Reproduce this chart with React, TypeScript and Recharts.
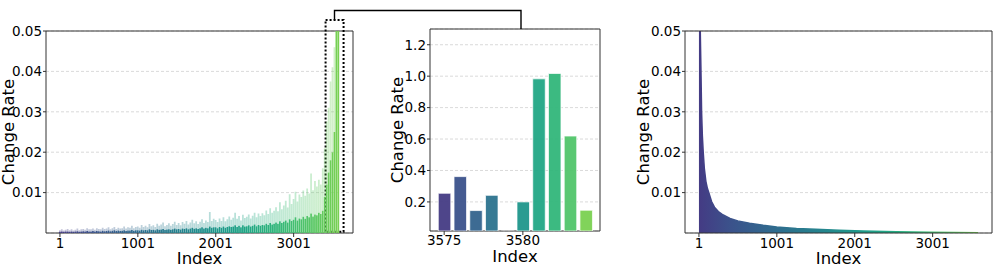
import React from "react";
import {
  Area,
  AreaChart,
  Bar,
  BarChart,
  CartesianGrid,
  Cell,
  ReferenceArea,
  XAxis,
  YAxis,
} from "recharts";

const FONT = '"DejaVu Sans", sans-serif';

// Full sequence (left panel). One sample every 25 positions, rates in units of 1e-3.
const FULL_INDEX = Array.from({ length: 144 }, (_, k) => 1 + 25 * k);
const FULL_PEAK_MILLI = [
  0.7, 0.9, 0.6, 0.8, 1.0, 0.7, 0.9, 0.6,
  0.8, 1.1, 0.7, 0.9, 1.0, 0.8, 1.2, 0.9,
  0.9, 1.1, 0.8, 1.2, 1.0, 0.9, 1.3, 1.0,
  1.1, 1.4, 0.9, 1.2, 1.5, 1.0, 1.3, 1.1,
  1.2, 1.6, 1.1, 1.4, 1.3, 1.8, 1.2, 1.5,
  1.6, 1.3, 2.0, 1.5, 1.8, 1.4, 2.2, 1.7,
  1.9, 1.5, 2.3, 1.8, 2.1, 2.6, 1.7, 2.0,
  2.4, 1.8, 2.2, 2.8, 2.0, 2.5, 1.9, 2.7,
  2.3, 3.0, 2.1, 2.6, 3.3, 2.4, 2.9, 2.2,
  2.8, 3.4, 2.5, 3.1, 2.7, 5.2, 3.0, 3.5,
  3.2, 2.7, 3.6, 3.0, 3.9, 2.9, 3.4, 4.1,
  3.3, 3.8, 5.0, 3.5, 4.2, 3.1, 4.5, 3.7,
  4.0, 4.6, 3.6, 4.3, 5.0, 3.9, 4.8, 4.2,
  4.9, 4.4, 5.6, 4.7, 6.1, 5.0, 5.5, 6.4,
  5.4, 7.6, 5.9, 6.8, 8.0, 6.3, 9.6, 7.2,
  8.4, 10.2, 7.8, 9.5, 8.9, 10.5, 9.2, 11.0,
  9.8, 14.7, 10.6, 12.9, 11.5, 13.2, 12.0, 16.0,
  21.0, 27.6, 31.0, 37.5, 41.0, 46.0, 60.0, 60.0,
];
const FULL_BASE_MILLI = [
  0.3, 0.4, 0.3, 0.35, 0.4, 0.3, 0.4, 0.3,
  0.35, 0.45, 0.3, 0.4, 0.45, 0.35, 0.5, 0.4,
  0.4, 0.5, 0.4, 0.5, 0.45, 0.4, 0.55, 0.45,
  0.5, 0.6, 0.45, 0.55, 0.65, 0.5, 0.6, 0.5,
  0.55, 0.7, 0.5, 0.6, 0.6, 0.75, 0.55, 0.65,
  0.7, 0.6, 0.8, 0.7, 0.75, 0.65, 0.9, 0.75,
  0.8, 0.7, 0.9, 0.8, 0.85, 1.0, 0.75, 0.85,
  0.9, 0.8, 0.95, 1.1, 0.9, 1.0, 0.85, 1.1,
  1.0, 1.2, 0.95, 1.1, 1.3, 1.05, 1.2, 1.0,
  1.2, 1.4, 1.1, 1.3, 1.2, 1.6, 1.3, 1.4,
  1.4, 1.2, 1.5, 1.3, 1.6, 1.3, 1.5, 1.7,
  1.5, 1.6, 1.9, 1.5, 1.8, 1.4, 1.9, 1.6,
  1.7, 1.9, 1.6, 1.8, 2.1, 1.7, 2.0, 1.8,
  2.0, 1.9, 2.3, 2.0, 2.5, 2.1, 2.3, 2.6,
  2.3, 2.9, 2.5, 2.8, 3.1, 2.6, 3.4, 3.0,
  3.3, 3.9, 3.1, 3.6, 3.4, 4.0, 3.5, 4.2,
  3.9, 4.8, 4.1, 4.6, 4.4, 5.0, 4.7, 5.5,
  9.0, 12.0, 15.0, 18.0, 20.0, 25.0, 60.0, 60.0,
];

const FULL_TICKS = [1, 1001, 2001, 3001];
const FULL_DOMAIN = [-178, 3763];
const RATE_TICKS = [0.01, 0.02, 0.03, 0.04, 0.05];
const RATE_DOMAIN = [0, 0.05];

// Zoomed window (middle panel)
const ZOOM_INDEX = [3575, 3576, 3577, 3578, 3579, 3580, 3581, 3582, 3583, 3584];
const ZOOM_RATE = [0.255, 0.361, 0.145, 0.242, 0, 0.2, 0.983, 1.017, 0.619, 0.147];
const ZOOM_TICKS = [3575, 3580];
const ZOOM_DOMAIN = [3574.1, 3584.9];
const ZOOM_RATE_TICKS = [0.2, 0.4, 0.6, 0.8, 1.0, 1.2];
const ZOOM_RATE_DOMAIN = [0.015, 1.3];

// Sorted rates (right panel)
const SORTED_INDEX = [
  1, 6, 12, 18, 27, 35, 45, 56, 70, 90, 110, 127, 163, 200, 250, 300, 400, 500,
  650, 826, 1000, 1253, 1500, 1800, 2108, 2535, 2962, 3300, 3584,
];
const SORTED_RATE = [
  0.9, 0.2, 0.07, 0.05, 0.04, 0.03, 0.024, 0.02, 0.016, 0.0128, 0.011, 0.01,
  0.0078, 0.0064, 0.0053, 0.0046, 0.0036, 0.003, 0.0024, 0.0019, 0.0015,
  0.0011, 0.0009, 0.0007, 0.0005, 0.0003, 0.0002, 0.00012, 0.00006,
];

const VIRIDIS_STOPS = [
  ["0", "#443b84"],
  ["0.113", "#3b528b"],
  ["0.194", "#355f8d"],
  ["0.274", "#2f6c8e"],
  ["0.355", "#2a788e"],
  ["0.435", "#25848e"],
  ["0.516", "#21918c"],
  ["0.597", "#1e9c89"],
  ["0.677", "#22a884"],
  ["0.758", "#2fb47c"],
  ["0.839", "#44bf70"],
  ["0.919", "#5ec962"],
  ["1", "#7ad151"],
];
const ZOOM_COLORS = [
  "#443b84", "#3b528b", "#33638d", "#2c738e", "#26828e",
  "#1f968b", "#21a685", "#32b67a", "#51c56a", "#7ad151",
];

const fullData = FULL_INDEX.map((index, i) => ({
  index,
  base: FULL_BASE_MILLI[i] / 1000,
  extra: (FULL_PEAK_MILLI[i] - FULL_BASE_MILLI[i]) / 1000,
}));
const zoomData = ZOOM_INDEX.map((index, i) => ({ index, rate: ZOOM_RATE[i] }));
const sortedData = SORTED_INDEX.map((index, i) => ({ index, rate: SORTED_RATE[i] }));

const tickStyle = { fontSize: 13.5, fill: "#000", fontFamily: FONT };
const LABEL_SIZE = 16.5;
const spine = "#333";

function SideLabel({ at, mid }: any) {
  return (
    <text
      x={at}
      y={mid}
      transform={`rotate(-90 ${at} ${mid})`}
      textAnchor="middle"
      dominantBaseline="central"
      fontSize={LABEL_SIZE}
      fontFamily={FONT}
      fill="#000"
    >
      Change Rate
    </text>
  );
}

function BottomLabel({ at, mid }: any) {
  return (
    <text
      x={mid}
      y={at}
      textAnchor="middle"
      dominantBaseline="central"
      fontSize={LABEL_SIZE}
      fontFamily={FONT}
      fill="#000"
    >
      Index
    </text>
  );
}

function Gradient({ id, from, to }: { id: string; from: number; to: number }) {
  return (
    <defs>
      <linearGradient id={id} gradientUnits="userSpaceOnUse" x1={from} x2={to} y1={0} y2={0}>
        {VIRIDIS_STOPS.map(([o, c]) => (
          <stop key={o} offset={o} stopColor={c} />
        ))}
      </linearGradient>
    </defs>
  );
}

function Frame({ x, y }: { x: number[]; y: number[] }) {
  return (
    <ReferenceArea
      x1={x[0]}
      x2={x[1]}
      y1={y[0]}
      y2={y[1]}
      fill="none"
      stroke={spine}
      strokeWidth={1}
      ifOverflow="visible"
    />
  );
}

export default function App() {
  return (
    <div
      style={{
        position: "absolute",
        left: 0,
        top: 0,
        width: 996,
        height: 269,
        background: "#fff",
        fontFamily: FONT,
      }}
    >
      {/* left: full sequence */}
      <div style={{ position: "absolute", left: 0, top: 0 }}>
        <BarChart width={360} height={269} data={fullData} margin={{ top: 31, right: 7, bottom: 0, left: 0 }}>
          <Gradient id="fullGrad" from={60} to={340} />
          <CartesianGrid vertical={false} stroke="#d0d0d0" strokeDasharray="3 2" strokeWidth={0.8} />
          <XAxis
            dataKey="index"
            type="number"
            domain={FULL_DOMAIN}
            ticks={FULL_TICKS}
            interval={0}
            height={36}
            tickSize={4}
            tickMargin={1}
            axisLine={false}
            tickLine={{ stroke: spine }}
            tick={tickStyle}
            label={<BottomLabel at={258.5} mid={199.5} />}
          />
          <YAxis
            type="number"
            domain={RATE_DOMAIN}
            allowDataOverflow
            ticks={RATE_TICKS}
            interval={0}
            width={46}
            tickSize={3}
            tickMargin={1}
            axisLine={false}
            tickLine={{ stroke: spine }}
            tick={tickStyle}
            tickFormatter={(v: number) => v.toFixed(2)}
            label={<SideLabel at={8} mid={132} />}
          />
          <Bar dataKey="base" stackId="s" barSize={2} fill="url(#fullGrad)" fillOpacity={1} isAnimationActive={false} />
          <Bar dataKey="extra" stackId="s" barSize={2} fill="url(#fullGrad)" fillOpacity={0.32} isAnimationActive={false} />
          <Frame x={FULL_DOMAIN} y={RATE_DOMAIN} />
          <ReferenceArea
            x1={3411}
            x2={3642}
            y1={0.0003}
            y2={0.0527}
            fill="none"
            stroke="#000"
            strokeWidth={2}
            strokeDasharray="2 2"
            ifOverflow="visible"
          />
        </BarChart>
      </div>

      {/* middle: zoomed window */}
      <div style={{ position: "absolute", left: 380, top: 0 }}>
        <BarChart width={230} height={269} data={zoomData} margin={{ top: 29, right: 10, bottom: 0, left: 0 }}>
          <CartesianGrid vertical={false} stroke="#d0d0d0" strokeDasharray="3 2" strokeWidth={0.8} />
          <XAxis
            dataKey="index"
            type="number"
            domain={ZOOM_DOMAIN}
            ticks={ZOOM_TICKS}
            interval={0}
            height={38}
            tickSize={4}
            tickMargin={0.5}
            axisLine={false}
            tickLine={{ stroke: spine }}
            tick={tickStyle}
            label={<BottomLabel at={256.5} mid={135} />}
          />
          <YAxis
            type="number"
            domain={ZOOM_RATE_DOMAIN}
            allowDataOverflow
            ticks={ZOOM_RATE_TICKS}
            interval={0}
            width={50}
            tickSize={3}
            tickMargin={1}
            axisLine={false}
            tickLine={{ stroke: spine }}
            tick={tickStyle}
            tickFormatter={(v: number) => v.toFixed(1)}
            label={<SideLabel at={17} mid={130} />}
          />
          <Bar dataKey="rate" barSize={12.5} stroke="#ffffff" strokeOpacity={0.7} isAnimationActive={false}>
            {zoomData.map((d, i) => (
              <Cell key={d.index} fill={ZOOM_COLORS[i]} fillOpacity={0.95} />
            ))}
          </Bar>
          <Frame x={ZOOM_DOMAIN} y={ZOOM_RATE_DOMAIN} />
        </BarChart>
      </div>

      {/* right: sorted */}
      <div style={{ position: "absolute", left: 630, top: 0 }}>
        <AreaChart width={366} height={269} data={sortedData} margin={{ top: 31, right: 4, bottom: 0, left: 0 }}>
          <Gradient id="sortGrad" from={69} to={349} />
          <CartesianGrid vertical={false} stroke="#d0d0d0" strokeDasharray="3 2" strokeWidth={0.8} />
          <XAxis
            dataKey="index"
            type="number"
            domain={FULL_DOMAIN}
            ticks={FULL_TICKS}
            interval={0}
            height={36}
            tickSize={4}
            tickMargin={1}
            axisLine={false}
            tickLine={{ stroke: spine }}
            tick={tickStyle}
            label={<BottomLabel at={258.5} mid={208.5} />}
          />
          <YAxis
            type="number"
            domain={RATE_DOMAIN}
            allowDataOverflow
            ticks={RATE_TICKS}
            interval={0}
            width={55}
            tickSize={3}
            tickMargin={1}
            axisLine={false}
            tickLine={{ stroke: spine }}
            tick={tickStyle}
            tickFormatter={(v: number) => v.toFixed(2)}
            label={<SideLabel at={13} mid={132} />}
          />
          <Area
            dataKey="rate"
            type="linear"
            stroke="url(#sortGrad)"
            strokeWidth={1.5}
            fill="url(#sortGrad)"
            fillOpacity={1}
            isAnimationActive={false}
          />
          <Frame x={FULL_DOMAIN} y={RATE_DOMAIN} />
        </AreaChart>
      </div>

      {/* connector from the dotted box to the zoomed panel */}
      <svg
        width={996}
        height={269}
        style={{ position: "absolute", left: 0, top: 0, pointerEvents: "none" }}
      >
        <path d="M334.5 20 V10.5 H521 V29" fill="none" stroke="#000" strokeWidth={1.4} />
      </svg>
    </div>
  );
}
